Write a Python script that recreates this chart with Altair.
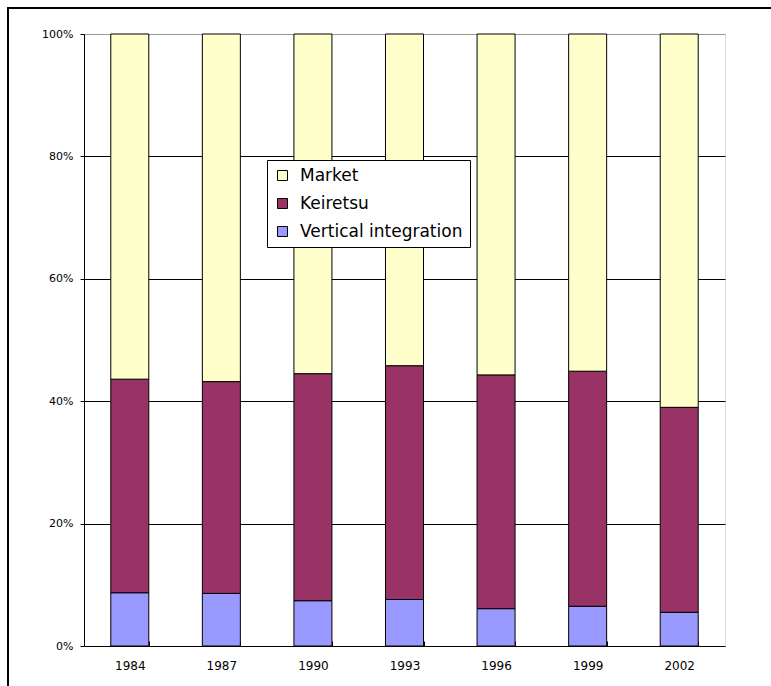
import altair as alt
import pandas as pd

# Procurement structure shares (%) by survey year
years = ["1984", "1987", "1990", "1993", "1996", "1999", "2002"]
vertical_integration = [8.7, 8.6, 7.4, 7.6, 6.1, 6.5, 5.5]
keiretsu = [34.9, 34.6, 37.1, 38.2, 38.2, 38.4, 33.5]
market = [56.4, 56.8, 55.5, 54.2, 55.7, 55.1, 61.0]

categories = ["Market", "Keiretsu", "Vertical integration"]
colors = ["#FFFFCC", "#993366", "#9999FF"]
stack_rank = {"Vertical integration": 0, "Keiretsu": 1, "Market": 2}

rows = []
for i, y in enumerate(years):
    for name, vals in (("Vertical integration", vertical_integration),
                       ("Keiretsu", keiretsu),
                       ("Market", market)):
        rows.append({"year": y, "type": name, "share": vals[i] / 100.0,
                     "rank": stack_rank[name]})
df = pd.DataFrame(rows)

FONT = "DejaVu Sans"

bars = alt.Chart(df).mark_bar(stroke="black", strokeWidth=1).encode(
    x=alt.X("year:N", sort=years, title=None,
            scale=alt.Scale(paddingInner=0.585, paddingOuter=0.2925),
            axis=alt.Axis(labelAngle=0, labelFontSize=12, labelFont=FONT,
                          labelColor="black", labelPadding=14,
                          tickBand="extent", tickSize=5, tickColor="black",
                          domain=False, offset=-5)),
    y=alt.Y("share:Q", stack="zero", title=None,
            scale=alt.Scale(domain=[0, 1]),
            axis=alt.Axis(values=[0, 0.2, 0.4, 0.6, 0.8, 1.0], format=".0%",
                          labelFontSize=11, labelFont=FONT, labelColor="black",
                          labelPadding=7, tickSize=4, tickColor="black",
                          domainColor="black",
                          gridColor={"condition": {"test": "datum.value >= 1",
                                                   "value": "#999999"},
                                     "value": "black"},
                          gridOpacity=1, gridWidth=1)),
    color=alt.Color("type:N", title=None,
                    scale=alt.Scale(domain=categories, range=colors),
                    legend=alt.Legend(orient="none", legendX=183, legendY=126,
                                      symbolType="square", symbolSize=100,
                                      symbolStrokeColor="black",
                                      symbolStrokeWidth=1,
                                      labelFontSize=17, labelFont=FONT,
                                      labelColor="black", labelLimit=400,
                                      rowPadding=10,
                                      padding=7, strokeColor="black",
                                      fillColor="white", labelOffset=9)),
    order=alt.Order("rank:Q", sort="ascending"),
)

# outer frame around the whole figure
frame = alt.Chart(pd.DataFrame({"f": [0]})).mark_rect(
    fill="white", fillOpacity=0, stroke="black", strokeWidth=2
).encode(x=alt.value(-76), x2=alt.value(820), y=alt.value(-26), y2=alt.value(720))

chart = alt.layer(bars, frame).properties(
    width=641, height=612,
    autosize=alt.AutoSizeParams(type="none"),
    padding={"left": 84, "top": 34, "right": 46, "bottom": 40},
).configure_view(stroke="#808080", strokeWidth=1).configure(background="white")

chart.save("out.html", embed_options={"renderer": "svg", "actions": False})
